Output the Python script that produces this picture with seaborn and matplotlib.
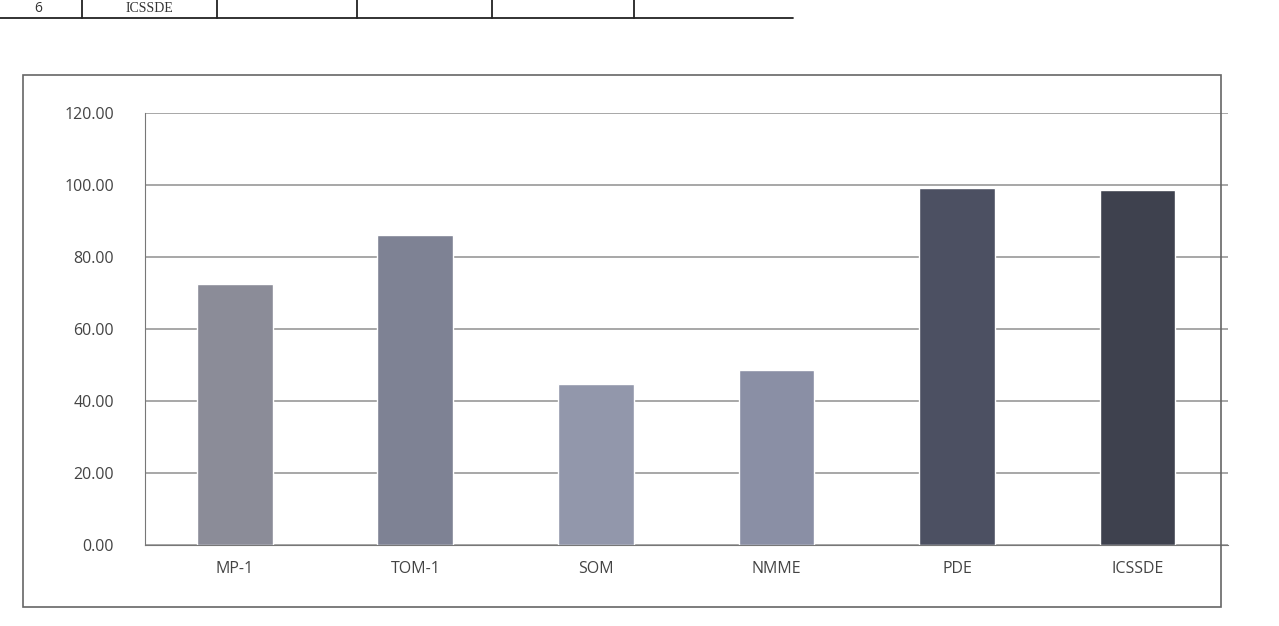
import matplotlib
matplotlib.use("Agg")
import matplotlib.pyplot as plt
import seaborn as sns
from matplotlib.patches import Rectangle
from matplotlib.ticker import FormatStrFormatter

# values
methods = ["MP-1", "TOM-1", "SOM", "NMME", "PDE", "ICSSDE"]
scores = [72.5, 86.0, 44.5, 48.5, 99.0, 98.5]
bar_colors = ["#8b8c98", "#7e8294", "#9297ab", "#8a8fa5", "#4c5062", "#3e414e"]
y_ticks = [0, 20, 40, 60, 80, 100, 120]

sns.set_style("white")
plt.rcParams["font.family"] = ["Open Sans", "DejaVu Sans"]

fig = plt.figure(figsize=(12.79, 6.26), dpi=100)
ax = fig.add_axes([0.113, 0.13, 0.847, 0.69])

sns.barplot(x=methods, y=scores, hue=methods, palette=bar_colors,
            width=0.42, legend=False, saturation=1, ax=ax)

ax.set_ylim(0, 120)
ax.set_yticks(y_ticks)
ax.yaxis.set_major_formatter(FormatStrFormatter("%.2f"))
ax.yaxis.grid(True, color="#8f8f8f", linewidth=1.1)
ax.set_axisbelow(True)

for side in ["top", "right"]:
    ax.spines[side].set_visible(False)
ax.spines["left"].set_color("#777777")
ax.spines["bottom"].set_color("#777777")

# excel style tick marks between categories
ax.set_xticks([i + 0.5 for i in range(len(methods))], minor=True)
ax.tick_params(axis="x", which="minor", length=6, color="#777777", direction="out")
ax.tick_params(axis="x", which="major", length=0, pad=12, labelsize=11.5, labelcolor="#444444")
ax.tick_params(axis="y", length=6, color="#777777", direction="out", labelsize=11.5,
               labelcolor="#444444", pad=16)
ax.set_xlim(-0.5, len(methods) - 0.5)
ax.set_xlabel("")
ax.set_ylabel("")

# chart area border
fig.patches.append(Rectangle((0.018, 0.03), 0.937, 0.85, transform=fig.transFigure,
                             fill=False, edgecolor="#666666", linewidth=1.2))

# fragment of the table row at the top of the scan
fig.add_artist(plt.Line2D([0, 0.62], [0.972, 0.972], color="#222222", lw=1.3))
for xv in [0.064, 0.170, 0.279, 0.385, 0.496]:
    fig.add_artist(plt.Line2D([xv, xv], [0.972, 1.0], color="#222222", lw=1.3))
fig.text(0.03, 0.987, "6", fontsize=10, color="#333333", ha="center", va="center")
fig.text(0.117, 0.987, "ICSSDE", fontsize=10, color="#333333", ha="center", va="center",
         family=["Liberation Serif", "DejaVu Serif"])

fig.savefig("out.png", dpi=100, facecolor="white")
